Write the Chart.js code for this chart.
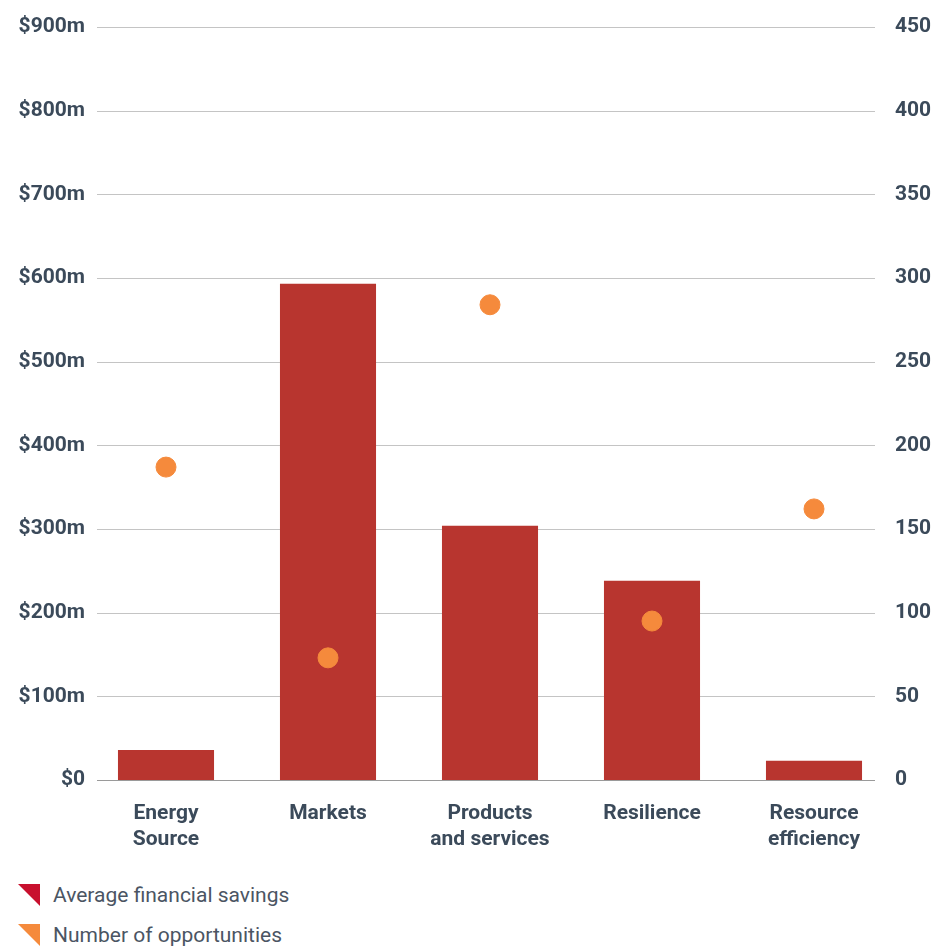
<!DOCTYPE html>
<html>
<head>
<meta charset="utf-8">
<script src="https://cdn.jsdelivr.net/npm/chart.js@4/dist/chart.umd.min.js"></script>
<style>
  html, body { margin: 0; padding: 0; background: #fff; }
  body { width: 934px; height: 947px; overflow: hidden; font-family: Roboto, "Noto Sans", sans-serif; }
  #wrap { position: relative; width: 934px; height: 870px; }
  #legend { position: absolute; left: 18px; top: 882px; }
  .item { display: flex; align-items: center; height: 25px; margin-bottom: 15px; }
  .tri { width: 0; height: 0; border-top: 22px solid; border-left: 22px solid transparent; margin-right: 13px; }
  .lbl { font-size: 21px; color: #4b5563; }
</style>
</head>
<body>
<div id="wrap"><canvas id="c" width="934" height="870"></canvas></div>
<div id="legend"></div>
<script>
const categories = [["Energy", "Source"], "Markets", ["Products", "and services"], "Resilience", ["Resource", "efficiency"]];
const savingsLabel = "Average financial savings";
const opportunitiesLabel = "Number of opportunities";
const savings = [36, 593, 304, 238, 23];          // $ millions
const opportunities = [187, 73, 284, 95, 162];    // count
const leftTicks = [0, 100, 200, 300, 400, 500, 600, 700, 800, 900];
const rightTicks = [0, 50, 100, 150, 200, 250, 300, 350, 400, 450];

const barColor = "#b8352f";
const legendBarColor = "#c8102e";
const dotColor = "#f58a3c";
const textColor = "#3b4a5a";
const tickFont = { family: "Roboto", weight: "bold", size: 21 };

const gridPlugin = {
  id: "trimmedGrid",
  beforeDatasetsDraw(chart) {
    const { ctx, chartArea, scales } = chart;
    const y = scales.y;
    const x0 = chartArea.left + 12, x1 = chartArea.right - 20;
    ctx.save();
    y.ticks.forEach(t => {
      const py = Math.round(y.getPixelForValue(t.value)) + 0.5;
      ctx.strokeStyle = t.value === 0 ? "#9a9a9a" : "#c4c4c4";
      ctx.lineWidth = 1.2;
      ctx.beginPath();
      ctx.moveTo(x0, py);
      ctx.lineTo(x1, py);
      ctx.stroke();
    });
    ctx.restore();
  }
};

const chart = new Chart(document.getElementById("c"), {
  type: "bar",
  data: {
    labels: categories,
    datasets: [
      {
        type: "scatter",
        label: opportunitiesLabel,
        data: opportunities,
        yAxisID: "y1",
        backgroundColor: dotColor,
        borderColor: dotColor,
        pointRadius: 10,
        pointHoverRadius: 10,
        showLine: false,
        order: 0
      },
      {
        type: "bar",
        label: savingsLabel,
        data: savings,
        yAxisID: "y",
        backgroundColor: barColor,
        categoryPercentage: 1,
        barPercentage: 0.593,
        order: 1
      }
    ]
  },
  options: {
    responsive: false,
    animation: false,
    events: [],
    layout: { padding: { top: 27, bottom: 0, left: 0, right: 0 } },
    plugins: { legend: { display: false }, tooltip: { enabled: false } },
    scales: {
      x: {
        type: "category",
        offset: true,
        grid: { display: false, drawTicks: false },
        border: { display: false },
        ticks: { color: textColor, font: { ...tickFont, lineHeight: 1.24 }, padding: 21, maxRotation: 0, autoSkip: false },
        afterFit(s) { s.height = 90; }
      },
      y: {
        position: "left",
        min: 0, max: 900,
        afterBuildTicks(s) { s.ticks = leftTicks.map(v => ({ value: v })); },
        grid: { display: false, drawTicks: false },
        border: { display: false },
        ticks: { color: textColor, font: tickFont, padding: 0,
                 callback: v => v === 0 ? "$0" : "$" + v + "m" },
        afterFit(s) { s.width = 85; }
      },
      y1: {
        position: "right",
        min: 0, max: 450,
        afterBuildTicks(s) { s.ticks = rightTicks.map(v => ({ value: v })); },
        grid: { display: false, drawTicks: false },
        border: { display: false },
        ticks: { color: textColor, font: tickFont, padding: 0 },
        afterFit(s) { s.width = 39; }
      }
    }
  },
  plugins: [gridPlugin]
});

// HTML legend built from the datasets
const legend = document.getElementById("legend");
[[savingsLabel, legendBarColor], [opportunitiesLabel, dotColor]].forEach(([text, col]) => {
  const item = document.createElement("div");
  item.className = "item";
  const tri = document.createElement("span");
  tri.className = "tri";
  tri.style.borderTopColor = col;
  const lbl = document.createElement("span");
  lbl.className = "lbl";
  lbl.textContent = text;
  item.appendChild(tri);
  item.appendChild(lbl);
  legend.appendChild(item);
});
</script>
</body>
</html>
